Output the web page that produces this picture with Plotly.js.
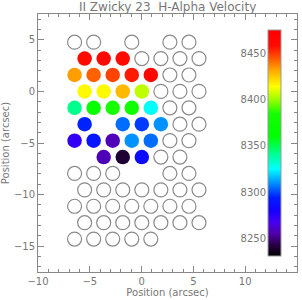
<!DOCTYPE html>
<html>
<head>
<meta charset="utf-8">
<script src="https://cdn.plot.ly/plotly-3.0.1.min.js"></script>
<style>html,body{margin:0;padding:0;background:#fff;}#chart{width:302px;height:300px;}</style>
</head>
<body>
<div id="chart"></div>
<script>
// Fiber positions (arcsec) and H-alpha velocities (km/s); null = no measurement (open circle)
var fiberX = [
  -6.47, -4.63, -0.95, 2.73, 4.57,
  -5.50, -3.66, -1.82, 0.02, 1.86, 3.70, 5.54,
  -6.47, -4.63, -2.79, -0.95, 0.89, 2.73, 4.57,
  -5.50, -3.66, -1.82, 0.02, 1.86, 3.70, 5.54,
  -6.47, -4.63, -2.79, -0.95, 0.89, 2.73, 4.57,
  -5.50, -1.82, 0.02, 1.86, 3.70, 5.54,
  -6.47, -4.63, -2.79, -0.95, 0.89, 2.73, 4.57,
  -3.66, -1.82, 0.02, 1.86, 3.70,
  -6.47, -4.63, -2.79, 2.73, 4.57,
  -5.50, -3.66, -1.82, 0.02, 1.86, 3.70, 5.54,
  -6.47, -4.63, -2.79, -0.95, 0.89, 2.73, 4.57,
  -5.50, -3.66, -1.82, 0.02, 1.86, 3.70, 5.54,
  -6.47, -4.63, -2.79, -0.95, 0.89
];
var fiberY = [
  4.77, 4.77, 4.77, 4.77, 4.77,
  3.18, 3.18, 3.18, 3.18, 3.18, 3.18, 3.18,
  1.59, 1.59, 1.59, 1.59, 1.59, 1.59, 1.59,
  0, 0, 0, 0, 0, 0, 0,
  -1.59, -1.59, -1.59, -1.59, -1.59, -1.59, -1.59,
  -3.18, -3.18, -3.18, -3.18, -3.18, -3.18,
  -4.77, -4.77, -4.77, -4.77, -4.77, -4.77, -4.77,
  -6.36, -6.36, -6.36, -6.36, -6.36,
  -7.95, -7.95, -7.95, -7.95, -7.95,
  -9.54, -9.54, -9.54, -9.54, -9.54, -9.54, -9.54,
  -11.13, -11.13, -11.13, -11.13, -11.13, -11.13, -11.13,
  -12.72, -12.72, -12.72, -12.72, -12.72, -12.72, -12.72,
  -14.31, -14.31, -14.31, -14.31, -14.31
];
var fiberVel = [
  null, null, null, null, null,
  8458, 8462, 8460, null, null, null, null,
  8433, 8443, 8448, 8455, 8465, null, null,
  8415, 8415, 8428, 8405, null, null, null,
  8342, 8370, 8385, 8380, 8326, null, null,
  8295, 8305, 8298, 8310, null, null,
  8272, 8290, 8258, 8310, 8305, null, null,
  8258, 8240, 8285, null, null,
  null, null, null, null, null,
  null, null, null, null, null, null, null,
  null, null, null, null, null, null, null,
  null, null, null, null, null, null, null,
  null, null, null, null, null
];
var velMin = 8231, velMax = 8475;
var colorbarTicks = [8250, 8300, 8350, 8400, 8450];

var emptyX = [], emptyY = [], fullX = [], fullY = [], fullV = [];
for (var i = 0; i < fiberX.length; i++) {
  if (fiberVel[i] === null) { emptyX.push(fiberX[i]); emptyY.push(fiberY[i]); }
  else { fullX.push(fiberX[i]); fullY.push(fiberY[i]); fullV.push(fiberVel[i]); }
}

var rainbow = [
  [0.00, 'rgb(0,0,0)'],
  [0.05, 'rgb(40,0,70)'],
  [0.10, 'rgb(80,0,170)'],
  [0.15, 'rgb(70,0,240)'],
  [0.20, 'rgb(20,0,255)'],
  [0.26, 'rgb(0,30,255)'],
  [0.32, 'rgb(0,140,255)'],
  [0.385, 'rgb(0,255,255)'],
  [0.45, 'rgb(0,255,150)'],
  [0.53, 'rgb(0,255,0)'],
  [0.63, 'rgb(20,255,0)'],
  [0.69, 'rgb(150,255,0)'],
  [0.75, 'rgb(255,255,0)'],
  [0.82, 'rgb(255,170,0)'],
  [0.88, 'rgb(255,80,0)'],
  [0.93, 'rgb(255,10,0)'],
  [1.00, 'rgb(255,0,0)']
];

var gray = '#777';
var fontFam = 'DejaVu Sans, Arial, sans-serif';

var traces = [
  {
    type: 'scatter', mode: 'markers', x: emptyX, y: emptyY, hoverinfo: 'skip',
    marker: {size: 14, color: 'rgba(0,0,0,0)', line: {color: '#8a8a8a', width: 1.2}},
    showlegend: false
  },
  {
    type: 'scatter', mode: 'markers', x: fullX, y: fullY,
    marker: {
      size: 14.5, color: fullV, colorscale: rainbow, cmin: velMin, cmax: velMax,
      line: {width: 0},
      showscale: true,
      colorbar: {
        x: 0.889, xanchor: 'left', xpad: 0, y: 0.5, yanchor: 'middle', ypad: 0,
        len: 0.875, lenmode: 'fraction', thickness: 13, thicknessmode: 'pixels',
        outlinecolor: '#999', outlinewidth: 1,
        tickmode: 'array', tickvals: colorbarTicks,
        ticks: 'inside', ticklen: 14, tickcolor: 'rgba(0,0,0,0)',
        ticklabelposition: 'inside',
        tickfont: {family: fontFam, size: 10, color: gray}
      }
    },
    showlegend: false
  }
];

var axisCommon = {
  showgrid: false, zeroline: false, showline: true, linecolor: '#888', linewidth: 1,
  mirror: 'ticks', ticks: 'inside', ticklen: 6, tickcolor: '#888', tickwidth: 1,
  dtick: 5, tickfont: {family: fontFam, size: 10, color: gray},
  minor: {dtick: 1, ticks: 'inside', ticklen: 3, tickcolor: '#888', tickwidth: 1},
  fixedrange: true
};

var layout = {
  width: 302, height: 300,
  margin: {l: 38, r: 5, t: 14, b: 28, pad: 0},
  paper_bgcolor: '#fff', plot_bgcolor: '#fff',
  title: {text: 'II Zwicky 23\u00a0\u00a0H-Alpha Velocity', font: {family: fontFam, size: 12, color: gray},
          x: 0.555, xanchor: 'center', y: 0.978, yanchor: 'middle'},
  xaxis: Object.assign({}, axisCommon, {range: [-10, 15], tick0: -10,
    title: {text: 'Position (arcsec)', font: {family: fontFam, size: 10, color: gray}, standoff: 2}}),
  yaxis: Object.assign({}, axisCommon, {range: [-17.5, 7.5], tick0: 0,
    title: {text: 'Position (arcsec)', font: {family: fontFam, size: 10, color: gray}, standoff: 4}}),
  showlegend: false
};

Plotly.newPlot('chart', traces, layout, {displayModeBar: false, staticPlot: true});
</script>
</body>
</html>
